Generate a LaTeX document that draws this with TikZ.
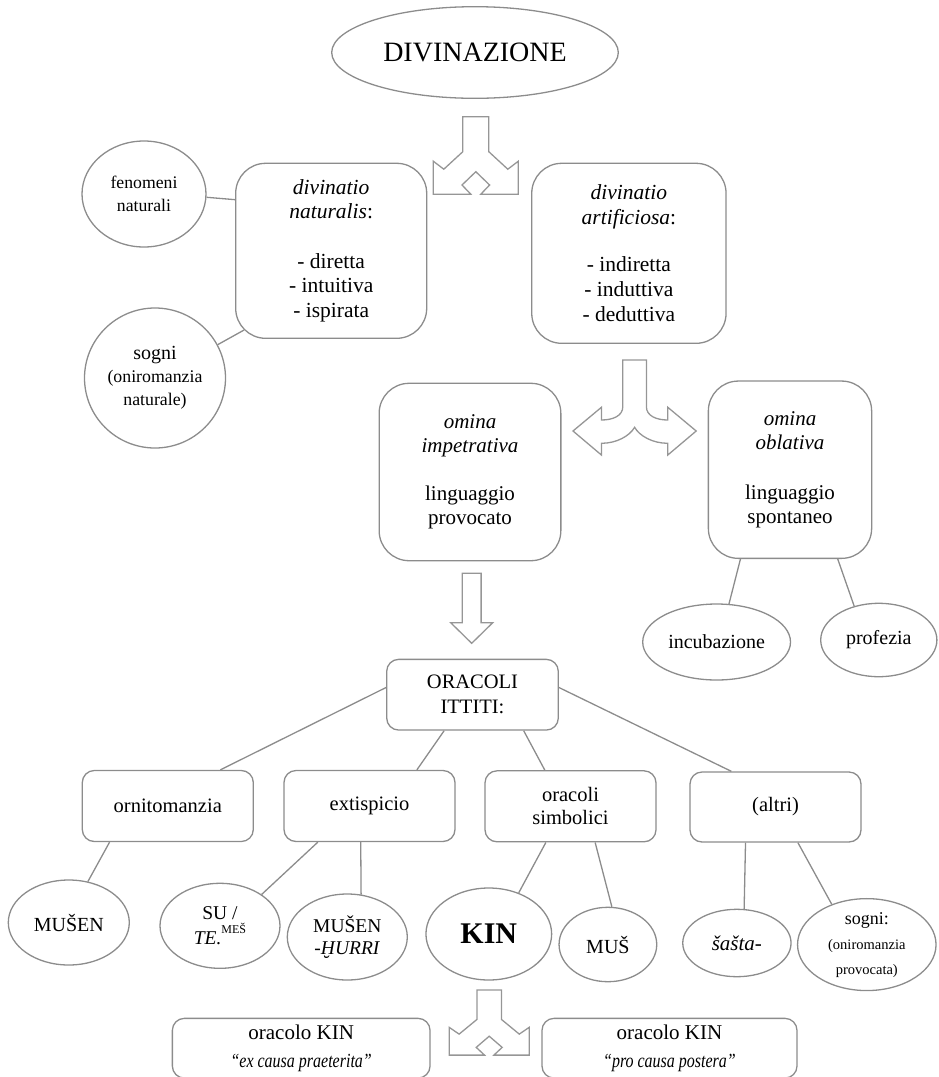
\documentclass[tikz,border=0pt]{standalone}
\usepackage{fontspec}
\setmainfont{Liberation Serif}
\newfontfamily\condfont{Liberation Serif}[FakeStretch=0.8]
\usetikzlibrary{shapes.geometric,calc}
\definecolor{lc}{RGB}{140,140,140}
\definecolor{ac}{RGB}{150,150,150}
\newcommand\myfs[2]{\fontsize{#1}{#2}\selectfont}
\tikzset{
  rbox/.style={draw=lc, line width=1.3pt, rounded corners=#1, align=center, inner sep=0pt},
  rbox/.default=12pt,
  ell/.style={ellipse, draw=lc, line width=1.3pt, align=center, inner sep=0pt},
  conn/.style={draw=lc, line width=1.3pt},
  barrow/.style={draw=ac, line width=1.3pt, line join=miter},
}
\begin{document}
\begin{tikzpicture}[x=1pt,y=-1pt]
\useasboundingbox (0,0) rectangle (938,1077);
\clip (0,0) rectangle (938,1077);

% top
\node[ell, minimum width=286.6pt, minimum height=91.6pt, font=\myfs{28}{32}] (div) at (475,52.5) {DIVINAZIONE};

\node[rbox=30pt, minimum width=191pt, minimum height=175pt, font=\myfs{21.5}{24.5}] (nat) at (331.2,250.8)
  {\textit{divinatio}\\\textit{naturalis}:\\[25pt]- diretta\\- intuitiva\\- ispirata};
\node[rbox=30pt, minimum width=194.3pt, minimum height=180pt, font=\myfs{21.5}{25}] (art) at (628.9,253.3)
  {\textit{divinatio}\\\textit{artificiosa}:\\[22pt]- indiretta\\- induttiva\\- deduttiva};

\node[ell, minimum width=124pt, minimum height=106pt, font=\myfs{17.7}{23}] (fen) at (144,194) {fenomeni\\naturali};
\node[ell, minimum width=141pt, minimum height=140pt, font=\myfs{17.8}{23}] (sog1) at (155,378)
  {{\myfs{20}{23}sogni}\\(oniromanzia\\naturale)};

% omina
\node[rbox=30pt, minimum width=181.7pt, minimum height=177.4pt, font=\myfs{21}{23.5}] (imp) at (470,472)
  {\textit{omina}\\\textit{impetrativa}\\[25pt]linguaggio\\provocato};
\node[rbox=30pt, minimum width=163.3pt, minimum height=177.3pt, font=\myfs{21}{24.5}] (obl) at (790,469.7)
  {\textit{omina}\\\textit{oblativa}\\[25pt]linguaggio\\spontaneo};

\node[ell, minimum width=147.8pt, minimum height=76pt, font=\myfs{20}{24}] (inc) at (716.6,642) {incubazione};
\node[ell, minimum width=116.2pt, minimum height=73.4pt, font=\myfs{20}{24}] (pro) at (878.8,640) {profezia};

% oracoli
\node[rbox, minimum width=171.6pt, minimum height=70.7pt, font=\myfs{20.5}{25}] (ora) at (472.5,694.7) {ORACOLI\\ITTITI:};
\node[rbox, minimum width=171pt, minimum height=71pt, font=\myfs{20.5}{24}] (orn) at (167.8,806) {ornitomanzia};
\node[rbox, minimum width=171pt, minimum height=71pt, font=\myfs{20.5}{24}] (ext) at (369.5,806) {extispicio};
\node[rbox, minimum width=171pt, minimum height=71pt, font=\myfs{20.5}{23.3}] (sim) at (570.5,806.3) {oracoli\\simbolici};
\node[rbox, minimum width=171pt, minimum height=70pt, font=\myfs{20.5}{24}] (alt) at (775.5,807) {(altri)};

% bottom row
\node[ell, minimum width=121pt, minimum height=85pt, font=\myfs{20}{24}] (mus) at (68.8,922.5) {MUŠEN};
\node[ell, minimum width=120pt, minimum height=85pt, font=\myfs{19.5}{25}] (su) at (220,925.8)
  {SU /\\\textit{TE.}\raisebox{0.55em}{\myfs{12}{12}MEŠ}};
\node[ell, minimum width=120pt, minimum height=86pt, font=\myfs{19.5}{22}] (muh) at (347.3,937) {MUŠEN\\\textit{-ḪURRI}};
\node[ell, minimum width=125.7pt, minimum height=92pt, font=\myfs{30}{32}] (kin) at (488.8,934) {\textbf{KIN}};
\node[ell, minimum width=97.7pt, minimum height=74.4pt, font=\myfs{20}{24}] (mus2) at (607.9,944.5) {MUŠ};
\node[ell, minimum width=108.3pt, minimum height=67.4pt, font=\myfs{21}{24}] (sas) at (736.9,943) {\textit{šašta-}};
\node[ell, minimum width=138.5pt, minimum height=91pt, font=\myfs{14.5}{25}] (sog2) at (866.8,944.6)
  {{\myfs{18}{25}sogni:}\\(oniromanzia\\provocata)};

% KIN boxes
\node[rbox, minimum width=257.7pt, minimum height=59.7pt, font=\myfs{21}{28}] (lb) at (301.2,1048.2)
  {oracolo KIN\\{\condfont\itshape\myfs{20}{28}“ex causa praeterita”}};
\node[rbox, minimum width=255pt, minimum height=59.7pt, font=\myfs{21}{28}] (rb) at (669.5,1048.2)
  {oracolo KIN\\{\condfont\itshape\myfs{20}{28}“pro causa postera”}};

% connectors
\draw[conn] (fen.-3) -- ($(nat.north west)!0.21!(nat.south west)$);
\draw[conn] ($(nat.south west)+(8.8,-8.8)$) -- (sog1.28);
\draw[conn] ($(ora.north west)!0.4!(ora.south west)$) -- ($(orn.north west)!0.805!(orn.north east)$);
\draw[conn] ($(ora.south west)!0.336!(ora.south east)$) -- ($(ext.north west)!0.775!(ext.north east)$);
\draw[conn] ($(ora.south west)!0.796!(ora.south east)$) -- ($(sim.north west)!0.351!(sim.north east)$);
\draw[conn] ($(ora.north east)!0.4!(ora.south east)$) -- ($(alt.north west)!0.244!(alt.north east)$);
\draw[conn] ($(orn.south west)!0.162!(orn.south east)$) -- (mus.65);
\draw[conn] ($(ext.south west)!0.2!(ext.south east)$) -- (su.37);
\draw[conn] ($(ext.south west)!0.449!(ext.south east)$) -- (muh.72);
\draw[conn] ($(sim.south west)!0.357!(sim.south east)$) -- (kin.54);
\draw[conn] ($(sim.south west)!0.643!(sim.south east)$) -- (mus2.84);
\draw[conn] ($(alt.south west)!0.326!(alt.south east)$) -- (sas.78);
\draw[conn] ($(alt.south west)!0.63!(alt.south east)$) -- (sog2.131);
\draw[conn] ($(obl.south west)!0.199!(obl.south east)$) -- (inc.72);
\draw[conn] ($(obl.south west)!0.79!(obl.south east)$) -- (pro.126);

% block arrows
\draw[barrow, shift={(475.8,116.7)}]
  (-13,0) -- (13,0) -- (13,35) -- (32,52.5) -- (42.5,44.5) -- (42.5,77.5) -- (5,77.5) -- (13.8,68.3)
  -- (0,55) -- (-13.8,68.3) -- (-5,77.5) -- (-42.5,77.5) -- (-42.5,44.5) -- (-32,52.5) -- (-13,35) -- cycle;
\draw[barrow, shift={(489.2,990)}, xscale=0.94, yscale=0.84]
  (-13,0) -- (13,0) -- (13,35) -- (32,52.5) -- (42.5,44.5) -- (42.5,77.5) -- (5,77.5) -- (13.8,68.3)
  -- (0,55) -- (-13.8,68.3) -- (-5,77.5) -- (-42.5,77.5) -- (-42.5,44.5) -- (-32,52.5) -- (-13,35) -- cycle;
\draw[barrow, shift={(634.6,360)}]
  (-11.8,0) -- (11.8,0) -- (11.8,46.7) .. controls (11.8,56) and (22,60) .. (33.2,60)
  -- (33.2,47.3) -- (61.6,71) -- (33.2,95) -- (33.2,83.3)
  .. controls (18,83.3) and (5,76) .. (0,67.3)
  .. controls (-5,76) and (-18,83.3) .. (-33.2,83.3)
  -- (-33.2,95) -- (-61.6,71) -- (-33.2,47.3) -- (-33.2,60)
  .. controls (-22,60) and (-11.8,56) .. (-11.8,46.7) -- cycle;
\draw[barrow, shift={(471.7,573.3)}]
  (-9.4,0) -- (9.4,0) -- (9.4,49.4) -- (21,49.4) -- (0,70) -- (-21,49.4) -- (-9.4,49.4) -- cycle;
\end{tikzpicture}
\end{document}
